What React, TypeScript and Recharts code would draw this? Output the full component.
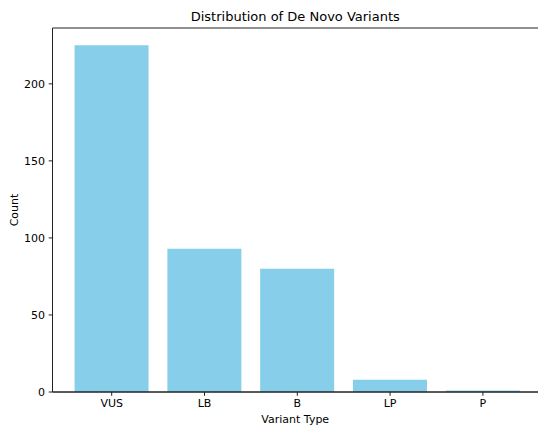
import React from 'react';
import { BarChart, Bar, XAxis, YAxis, ReferenceLine, Label } from 'recharts';

const categories = ['VUS', 'LB', 'B', 'LP', 'P'];
const counts = [225, 93, 80, 8, 1];
const yTicks = [0, 50, 100, 150, 200];
const yMax = 236.25;

const data = categories.map((c, i) => ({ type: c, count: counts[i] }));

const FONT = 'DejaVu Sans, sans-serif';
const AXIS = '#222';
const TICK_FS = 11;
const TITLE_FS = 13;

const YLabel = (props: any) => {
  const vb = props.viewBox || {};
  const cy = vb.y + vb.height / 2;
  const x = 17.5;
  return (
    <text x={x} y={cy} transform={`rotate(-90 ${x} ${cy})`} textAnchor="middle"
      fontFamily={FONT} fontSize={TICK_FS} fill="#000">Count</text>
  );
};

export default function App() {
  return (
    <div style={{ position: 'absolute', left: 0, top: 0, background: '#fff' }}>
      <BarChart width={538} height={427} data={data}
        margin={{ top: 28, right: 0, bottom: 0, left: 0.5 }}
        barCategoryGap="10%">
        <XAxis dataKey="type" height={35} padding={{ left: 12.8, right: 8.7 }}
          tickSize={3.8} tickMargin={3.6}
          axisLine={{ stroke: AXIS, strokeWidth: 1 }}
          tickLine={{ stroke: AXIS }}
          tick={{ fill: '#000', fontSize: TICK_FS, fontFamily: FONT }}>
          <Label value="Variant Type" position="insideBottom" offset={4}
            style={{ fontFamily: FONT, fontSize: TICK_FS, fill: '#000' }} />
        </XAxis>
        <YAxis width={52} domain={[0, yMax]} ticks={yTicks} type="number"
          allowDataOverflow
          tickSize={3.8} tickMargin={3.6}
          axisLine={{ stroke: AXIS, strokeWidth: 1 }}
          tickLine={{ stroke: AXIS }}
          tick={{ fill: '#000', fontSize: TICK_FS, fontFamily: FONT }}
          label={<YLabel />} />
        <Bar dataKey="count" fill="#87CEEB" isAnimationActive={false} />
        <ReferenceLine y={0} stroke={AXIS} strokeWidth={1} />
        <ReferenceLine y={yMax} stroke={AXIS} strokeWidth={1} ifOverflow="extendDomain">
          <Label value="Distribution of De Novo Variants" position="top" offset={7}
            style={{ fontFamily: FONT, fontSize: TITLE_FS, fill: '#000' }} />
        </ReferenceLine>
      </BarChart>
    </div>
  );
}
